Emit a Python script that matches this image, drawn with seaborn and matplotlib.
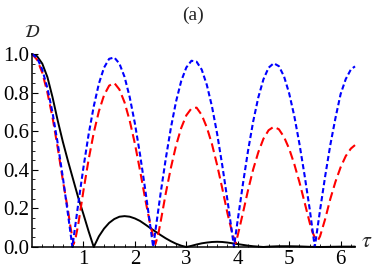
import matplotlib
matplotlib.use("Agg")
import matplotlib.pyplot as plt
import seaborn as sns
import pandas as pd
from matplotlib.ticker import MultipleLocator, FixedLocator

# values
tau_blue = [0.0, 0.1, 0.2, 0.3, 0.4, 0.5, 0.6, 0.7, 0.785, 0.8, 0.9, 1.0, 1.1, 1.2, 1.3, 1.4,
            1.5, 1.6, 1.7, 1.8, 1.9, 2.0, 2.1, 2.2, 2.3, 2.356, 2.4, 2.5, 2.6, 2.7, 2.8, 2.9,
            3.0, 3.1, 3.2, 3.3, 3.4, 3.5, 3.6, 3.7, 3.8, 3.9, 3.927, 4.0, 4.1, 4.2, 4.3, 4.4,
            4.5, 4.6, 4.7, 4.8, 4.9, 5.0, 5.1, 5.2, 5.3, 5.4, 5.498, 5.6, 5.7, 5.8, 5.9, 6.0,
            6.1, 6.2, 6.28]
d_blue = [1.000, 0.979, 0.919, 0.823, 0.695, 0.537, 0.360, 0.169, 0.0, 0.029, 0.225, 0.412,
          0.582, 0.728, 0.846, 0.929, 0.975, 0.982, 0.950, 0.881, 0.776, 0.641, 0.480, 0.300,
          0.109, 0.0, 0.085, 0.277, 0.456, 0.617, 0.753, 0.859, 0.930, 0.965, 0.960, 0.919,
          0.839, 0.727, 0.586, 0.422, 0.243, 0.052, 0.0, 0.140, 0.325, 0.498, 0.650, 0.775,
          0.869, 0.929, 0.952, 0.937, 0.884, 0.796, 0.678, 0.534, 0.371, 0.195, 0.0, 0.190,
          0.367, 0.529, 0.668, 0.792, 0.870, 0.920, 0.936]

tau_red = [0.0, 0.1, 0.2, 0.3, 0.4, 0.5, 0.6, 0.7, 0.75, 0.81, 0.85, 0.9, 1.0, 1.1, 1.2, 1.3,
           1.4, 1.5, 1.6, 1.7, 1.8, 1.9, 2.0, 2.1, 2.2, 2.3, 2.36, 2.4, 2.45, 2.5, 2.6, 2.7,
           2.8, 2.9, 3.0, 3.1, 3.2, 3.3, 3.4, 3.5, 3.6, 3.7, 3.8, 3.9, 3.96, 4.0, 4.1, 4.2,
           4.3, 4.4, 4.5, 4.6, 4.7, 4.8, 4.9, 5.0, 5.1, 5.2, 5.3, 5.4, 5.45, 5.5, 5.56, 5.6,
           5.7, 5.8, 5.9, 6.0, 6.1, 6.2, 6.28]
d_red = [1.000, 0.970, 0.903, 0.800, 0.670, 0.514, 0.345, 0.190, 0.100, 0.015, 0.050, 0.118,
         0.292, 0.452, 0.591, 0.703, 0.786, 0.836, 0.850, 0.816, 0.749, 0.654, 0.536, 0.397,
         0.250, 0.115, 0.050, 0.015, 0.060, 0.129, 0.277, 0.410, 0.525, 0.616, 0.682, 0.718,
         0.722, 0.684, 0.619, 0.532, 0.424, 0.303, 0.175, 0.065, 0.020, 0.060, 0.175, 0.294,
         0.402, 0.491, 0.561, 0.605, 0.623, 0.610, 0.570, 0.509, 0.429, 0.336, 0.231, 0.125,
         0.080, 0.048, 0.035, 0.055, 0.145, 0.249, 0.338, 0.413, 0.471, 0.510, 0.528]

tau_black = [0.0, 0.1, 0.2, 0.3, 0.4, 0.5, 0.6, 0.7, 0.8, 0.9, 1.0, 1.1, 1.2, 1.3, 1.4, 1.5,
             1.6, 1.7, 1.8, 1.9, 2.0, 2.1, 2.2, 2.3, 2.4, 2.5, 2.6, 2.7, 2.8, 2.9, 3.0, 3.1,
             3.2, 3.3, 3.4, 3.5, 3.6, 3.7, 3.8, 3.9, 4.0, 4.1, 4.2, 4.3, 4.4, 4.5, 4.6, 4.8,
             5.0, 5.2, 5.4, 5.6, 5.8, 6.0, 6.28]
d_black = [1.000, 0.988, 0.950, 0.880, 0.775, 0.655, 0.545, 0.445, 0.350, 0.255, 0.170,
           0.082, 0.0, 0.055, 0.095, 0.125, 0.145, 0.157, 0.160, 0.157, 0.148, 0.135, 0.117,
           0.098, 0.080, 0.062, 0.045, 0.030, 0.017, 0.007, 0.0, 0.006, 0.013, 0.019, 0.023,
           0.026, 0.027, 0.026, 0.023, 0.019, 0.015, 0.011, 0.007, 0.004, 0.002, 0.0, 0.002,
           0.004, 0.004, 0.003, 0.001, 0.0, 0.001, 0.002, 0.002]

x_ticks = [1, 2, 3, 4, 5, 6]
y_ticks = [0.0, 0.2, 0.4, 0.6, 0.8, 1.0]

sns.set_style("ticks")
serif = ["Liberation Serif", "DejaVu Serif"]
plt.rcParams.update({
    "font.family": serif,
    "mathtext.fontset": "stix",
    "xtick.direction": "in", "ytick.direction": "in",
    "xtick.major.size": 4, "ytick.major.size": 4,
    "xtick.minor.size": 2.2, "ytick.minor.size": 2.2,
    "xtick.major.width": 0.8, "ytick.major.width": 0.8,
    "xtick.minor.width": 0.6, "ytick.minor.width": 0.6,
    "xtick.major.pad": 2, "ytick.major.pad": 2,
    "xtick.labelsize": 15, "ytick.labelsize": 15,
    "xtick.color": "black", "ytick.color": "black",
    "axes.edgecolor": "black", "axes.linewidth": 1.1,
})

fig = plt.figure(figsize=(3.74, 2.75), dpi=100)
ax = fig.add_axes([32 / 374, 1 - 247 / 275, 323 / 374, 193 / 275])

df_k = pd.DataFrame({"tau": tau_black, "D": d_black})
df_r = pd.DataFrame({"tau": tau_red, "D": d_red})
df_b = pd.DataFrame({"tau": tau_blue, "D": d_blue})

sns.lineplot(data=df_k, x="tau", y="D", ax=ax, color="black", lw=1.4,
             estimator=None, sort=False, clip_on=False)
sns.lineplot(data=df_r, x="tau", y="D", ax=ax, color="#ff0000", lw=1.5,
             linestyle=(0, (4.3, 2.2)), estimator=None, sort=False, clip_on=False)
sns.lineplot(data=df_b, x="tau", y="D", ax=ax, color="#0000ff", lw=1.5,
             linestyle=(0, (2.5, 1.4)), estimator=None, sort=False, clip_on=False)

ax.set_xlim(0, 6.28)
ax.set_ylim(0, 1.0)
ax.set_xlabel("")
ax.set_ylabel("")
ax.spines["top"].set_visible(False)
ax.spines["right"].set_visible(False)

ax.xaxis.set_minor_locator(FixedLocator([i * 0.2 for i in range(1, 32) if i % 5]))
ax.yaxis.set_minor_locator(MultipleLocator(0.05))
ax.set_xticks(x_ticks)
ax.set_xticklabels([str(v) for v in x_ticks], fontfamily=serif, fontsize=15)
ax.set_yticks(y_ticks)
ax.set_yticklabels([f"{v:.1f}" for v in y_ticks], fontfamily=serif, fontsize=15)

ax.text(1.035, 0.025, r"$\tau$", transform=ax.transAxes, ha="center", va="center",
        fontsize=16)
ax.text(0.0, 1.11, r"$\mathcal{D}$", transform=ax.transAxes, ha="center", va="center",
        fontsize=13)
ax.text(0.498, 1.20, "(a)", transform=ax.transAxes, ha="center", va="center",
        fontsize=14, fontfamily=serif)

fig.savefig("out.png", dpi=100)
